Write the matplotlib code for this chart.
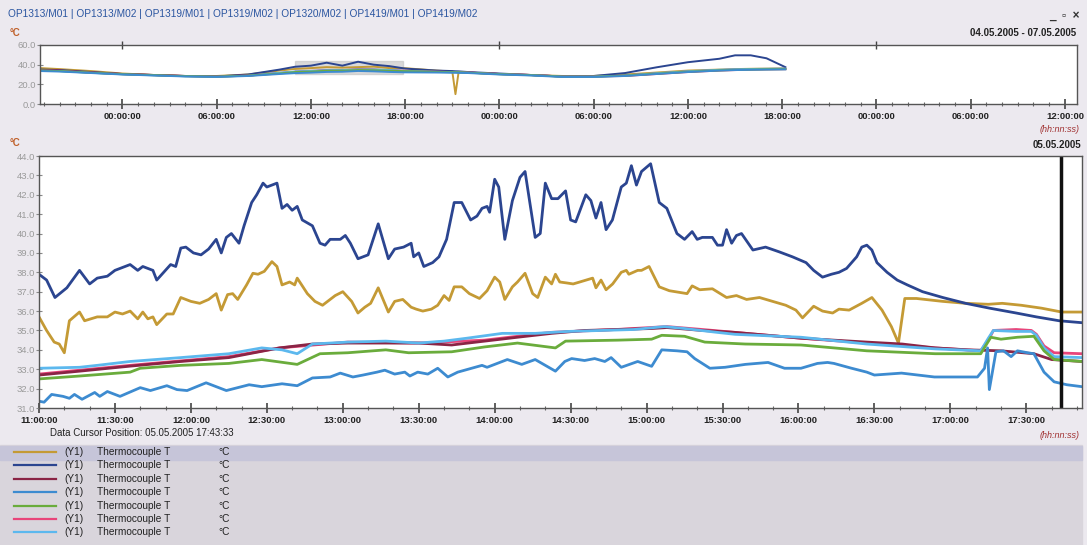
import matplotlib.pyplot as plt
import matplotlib.dates as mdates
from matplotlib.lines import Line2D
from matplotlib.patches import Rectangle
from datetime import datetime, timedelta

W, H = 1087, 545
start_main = datetime(2005, 5, 5, 11, 0)
day0 = datetime(2005, 5, 5, 0, 0)
cursor_time = datetime(2005, 5, 5, 17, 43, 33)

names = ['OP1313/M01', 'OP1313/M02', 'OP1319/M01', 'OP1319/M02', 'OP1320/M02', 'OP1419/M01', 'OP1419/M02']
colors = ['#c49a35', '#2b4590', '#8a2445', '#3d8bd0', '#6aac3c', '#e8457a', '#5cb8ee']

# main chart, minutes after 11:00
gold_t = [0, 3, 6, 8, 10, 12, 16, 18, 23, 27, 30, 33, 36, 39, 41, 43, 45, 46.5, 50.5, 53, 56, 60, 63.5, 67, 70, 72, 74.5, 76.5, 78.5, 82, 84.5, 86.5, 89, 92, 94, 96, 99, 101, 102, 106, 109, 112, 117, 120, 123.5, 126, 128.7, 131, 134, 138, 140.5, 143.7, 147, 149, 151.6, 155, 157.5, 160, 162, 164, 167, 170, 174, 177, 180, 182, 184, 187, 189, 192, 195, 197, 200, 202.5, 204, 205.7, 208.5, 211, 213.6, 218.7, 220, 222, 224, 226.6, 230, 232, 233, 236.5, 238, 241, 245, 249, 256, 258, 261, 266, 271.6, 275.5, 279.5, 284.6, 289.8, 295, 299, 301.6, 306, 309.5, 313.5, 316, 320, 325, 329, 333, 336.7, 339.5, 342, 346.6, 357, 366, 375, 380.5, 388, 396, 404, 412]
gold_v = [35.7, 35.0, 34.4, 34.3, 33.85, 35.5, 35.95, 35.5, 35.7, 35.7, 35.95, 35.85, 36.0, 35.6, 35.95, 35.6, 35.7, 35.3, 35.85, 35.85, 36.7, 36.5, 36.4, 36.6, 36.9, 36.05, 36.85, 36.9, 36.6, 37.35, 37.95, 37.9, 38.05, 38.55, 38.3, 37.35, 37.5, 37.35, 37.7, 36.9, 36.5, 36.3, 36.8, 37.0, 36.5, 35.9, 36.2, 36.4, 37.2, 35.95, 36.5, 36.6, 36.2, 36.1, 36.0, 36.1, 36.3, 36.8, 36.55, 37.25, 37.25, 36.9, 36.65, 37.05, 37.75, 37.5, 36.6, 37.25, 37.5, 37.95, 36.9, 36.7, 37.75, 37.4, 37.9, 37.5, 37.45, 37.4, 37.5, 37.7, 37.2, 37.6, 37.1, 37.4, 38.0, 38.1, 37.9, 38.1, 38.1, 38.3, 37.25, 37.05, 36.9, 37.3, 37.1, 37.15, 36.7, 36.8, 36.6, 36.7, 36.5, 36.3, 36.05, 35.65, 36.25, 36.0, 35.9, 36.1, 36.05, 36.4, 36.7, 36.05, 35.2, 34.35, 36.65, 36.65, 36.5, 36.4, 36.35, 36.4, 36.3, 36.15, 35.95, 35.95]

navy_t = [0, 3, 6.3, 11, 16, 20, 23, 27, 30, 36, 39, 41, 45, 46.5, 52, 54, 56, 58, 61, 64, 67, 70, 72, 74, 76, 79, 81, 84, 86, 88.5, 90, 94, 96, 98, 100, 102, 104, 108, 111, 113, 115, 119, 121, 123, 126, 130, 134, 138, 140.5, 144, 147, 148, 150, 152, 155.5, 158, 161, 164, 167, 170.5, 173, 175, 177, 178, 180, 181.6, 184, 187, 190, 192, 196, 198, 200, 202.5, 205, 208, 210, 212, 216, 218, 220, 222, 224, 226.5, 230, 232, 234, 236, 238, 241.6, 245, 248, 252, 255, 258, 260, 262, 266, 268, 270, 271.6, 273.6, 275.5, 277.5, 282, 287, 292.5, 297.6, 303, 306, 309.5, 313, 316, 319, 321, 323, 325, 327, 329, 331, 335, 339, 343, 349, 357, 366, 375.5, 386, 394, 403, 412]
navy_v = [37.9, 37.6, 36.7, 37.2, 38.1, 37.4, 37.7, 37.8, 38.1, 38.4, 38.1, 38.3, 38.1, 37.6, 38.4, 38.3, 39.25, 39.3, 39.0, 38.9, 39.2, 39.7, 39.0, 39.8, 40.0, 39.5, 40.4, 41.6, 42.0, 42.6, 42.4, 42.6, 41.3, 41.5, 41.2, 41.4, 40.7, 40.4, 39.5, 39.4, 39.7, 39.7, 39.9, 39.5, 38.7, 38.9, 40.5, 38.7, 39.2, 39.3, 39.5, 38.8, 39.0, 38.3, 38.5, 38.8, 39.7, 41.6, 41.6, 40.7, 40.9, 41.3, 41.4, 41.1, 42.8, 42.4, 39.7, 41.7, 42.9, 43.2, 39.8, 40.0, 42.6, 41.8, 41.8, 42.2, 40.7, 40.6, 42.0, 41.7, 40.8, 41.6, 40.2, 40.7, 42.4, 42.6, 43.5, 42.5, 43.2, 43.6, 41.6, 41.3, 40.0, 39.7, 40.1, 39.7, 39.8, 39.8, 39.4, 39.4, 40.2, 39.5, 39.9, 40.0, 39.15, 39.3, 39.05, 38.8, 38.5, 38.1, 37.75, 37.9, 38.0, 38.2, 38.5, 38.8, 39.3, 39.4, 39.15, 38.5, 38.0, 37.6, 37.35, 37.0, 36.7, 36.4, 36.15, 35.9, 35.7, 35.5, 35.4]

maroon_t = [0, 16, 36, 56, 75, 95, 108, 122, 137, 150, 163, 176, 189, 202.5, 215.5, 228.6, 242, 248, 262, 275, 301, 327, 341, 354, 367, 380, 393, 400, 412]
maroon_v = [32.7, 32.9, 33.16, 33.4, 33.6, 34.1, 34.3, 34.35, 34.35, 34.35, 34.25, 34.45, 34.65, 34.85, 35.0, 35.05, 35.1, 35.15, 35.0, 34.9, 34.6, 34.4, 34.3, 34.1, 34.0, 33.95, 33.8, 33.5, 33.4]

blue_t = [0, 2, 5, 9.5, 12, 14, 17, 22, 24, 27, 32, 40, 44, 50.5, 54.5, 58.5, 66, 74, 83, 88, 96, 102, 108, 115, 119, 124, 128, 133.5, 136.6, 140.5, 144.5, 146.5, 149.6, 153.6, 157.5, 161.5, 165.4, 175, 177, 179, 185, 190.7, 196, 204, 207.7, 210.4, 215.5, 219.5, 223.5, 226, 230, 236.5, 242, 246, 252, 256, 259, 265, 271, 279, 288, 294.5, 301, 307.5, 311.5, 314, 321, 327, 330, 340.7, 353.7, 370.7, 373.5, 374.7, 375.4, 378, 381, 384, 386.5, 390.5, 393, 397, 401, 406, 412]
blue_v = [31.35, 31.3, 31.7, 31.6, 31.5, 31.7, 31.45, 31.8, 31.6, 31.85, 31.6, 32.05, 31.9, 32.15, 31.95, 31.9, 32.3, 31.9, 32.2, 32.1, 32.25, 32.15, 32.55, 32.6, 32.8, 32.6, 32.7, 32.85, 32.95, 32.75, 32.85, 32.65, 32.85, 32.75, 33.05, 32.6, 32.85, 33.2, 33.1, 33.2, 33.5, 33.25, 33.5, 32.9, 33.4, 33.55, 33.45, 33.55, 33.4, 33.6, 33.1, 33.4, 33.15, 34.0, 33.95, 33.9, 33.55, 33.05, 33.1, 33.25, 33.35, 33.05, 33.05, 33.3, 33.35, 33.3, 33.05, 32.85, 32.7, 32.8, 32.6, 32.6, 33.05, 34.1, 31.95, 33.9, 33.95, 33.65, 33.95, 33.85, 33.8, 32.85, 32.35, 32.2, 32.1]

green_t = [0, 16, 36, 40, 56, 75, 88, 102, 111, 122, 137, 146, 163, 176, 189, 204, 208, 228.6, 242, 246, 255, 263, 279, 301, 327, 354, 372, 376, 380, 386.5, 393, 397, 401, 412]
green_v = [32.5, 32.65, 32.85, 33.05, 33.2, 33.3, 33.5, 33.25, 33.8, 33.85, 34.0, 33.85, 33.9, 34.15, 34.35, 34.1, 34.45, 34.5, 34.55, 34.75, 34.7, 34.4, 34.3, 34.25, 33.95, 33.8, 33.8, 34.65, 34.55, 34.65, 34.7, 33.95, 33.5, 33.4]

pink_t = [0, 36, 75, 95, 122, 150, 176, 202, 228, 248, 262, 275, 301, 327, 354, 372, 375, 377, 386, 392, 394, 397, 401, 412]
pink_v = [32.75, 33.2, 33.65, 34.1, 34.4, 34.35, 34.5, 34.9, 35.05, 35.2, 35.05, 34.9, 34.6, 34.35, 34.1, 33.95, 34.5, 35.0, 35.05, 35.0, 34.8, 34.2, 33.85, 33.8]

sky_t = [0, 16, 23, 36, 56, 75, 88, 96, 102, 108, 122, 137, 150, 160, 169, 183, 196, 209, 222, 235, 247, 255, 268, 275, 301, 327, 354, 372, 375, 377, 386, 392, 394, 397, 401, 412]
sky_v = [33.05, 33.1, 33.2, 33.4, 33.6, 33.8, 34.1, 34.0, 33.8, 34.3, 34.4, 34.45, 34.35, 34.45, 34.6, 34.85, 34.85, 34.95, 35.0, 35.05, 35.2, 35.1, 34.9, 34.8, 34.65, 34.3, 34.05, 33.95, 34.6, 35.0, 34.95, 34.95, 34.75, 34.1, 33.65, 33.6]

# overview chart, hours after 05.05.2005 00:00
ov_hours = [-5.2, -4, -2, 0, 2, 4, 6, 8, 10, 11, 12, 13, 14, 15, 16, 17, 18, 20, 21, 21.2, 21.4, 22, 24, 26, 28, 30, 32, 34, 36, 38, 39, 40, 41, 42.2]
ov_gold = [36.5, 35.5, 33.5, 31, 29.5, 28.5, 28.5, 30, 34, 35.7, 36.5, 37.5, 37, 37.5, 38, 36.5, 36.4, 34, 33, 10, 32.5, 32, 30.5, 29.5, 28.5, 28.5, 30, 32, 34, 35, 35.5, 35.8, 36, 36.2]
ov_navy = [35, 34.5, 32.5, 30.5, 29.5, 28.5, 28, 30, 35, 37.9, 39, 42, 39, 43, 40, 38.5, 36, 34, 33.5, 33.3, 33.2, 32.5, 31, 29.5, 28, 28.5, 31.5, 37.3, 42.5, 46, 49.5, 49.5, 46.5, 37.5]
ov_maroon = [34.5, 34, 32, 30.5, 29.5, 28.5, 28, 29, 31.5, 32.7, 33.2, 34.3, 34.4, 35, 34.9, 34.2, 33.4, 32.8, 32.5, 32.5, 32.4, 32, 30.5, 29.5, 28, 28, 29, 31, 33, 34.5, 35, 35.4, 35.6, 35.8]
ov_blue = [33.5, 33, 31.5, 30, 29, 28, 27.5, 28.5, 30.5, 31.4, 31.9, 32.6, 32.8, 33.6, 33.2, 32.6, 32.2, 32, 31.8, 31.8, 31.7, 31.5, 30, 29, 27.5, 27.5, 28.5, 30.5, 32.5, 34, 34.5, 34.8, 35, 35.2]
ov_green = [34, 33.5, 31.8, 30.3, 29.3, 28.3, 27.8, 28.8, 31, 32.5, 33, 33.8, 33.9, 34.5, 34.3, 33.8, 33.4, 32.6, 32.3, 32.3, 32.2, 31.8, 30.3, 29.3, 27.8, 27.8, 28.8, 30.8, 32.8, 34.2, 34.7, 35, 35.3, 35.5]
ov_pink = [34.3, 33.8, 31.9, 30.4, 29.4, 28.4, 27.9, 28.9, 31.4, 32.8, 33.6, 34.3, 34.5, 35.1, 34.9, 34.3, 33.8, 32.8, 32.5, 32.5, 32.4, 32, 30.5, 29.5, 28, 28, 28.5, 30.5, 32.5, 34, 34.5, 35, 35.2, 35.4]
ov_sky = [34, 33.5, 31.7, 30.2, 29.2, 28.2, 27.8, 28.8, 31.8, 33.05, 33.6, 34.4, 34.5, 35.1, 35.0, 34.6, 33.6, 32.8, 32.4, 32.4, 32.3, 31.9, 30.4, 29.4, 27.9, 27.9, 29, 31.3, 33.3, 34.8, 35.3, 35.6, 35.8, 36]

main_series = [(gold_t, gold_v), (navy_t, navy_v), (pink_t, pink_v), (maroon_t, maroon_v),
               (sky_t, sky_v), (green_t, green_v), (blue_t, blue_v)]
main_colors = [colors[0], colors[1], colors[5], colors[2], colors[6], colors[4], colors[3]]
ov_series = [ov_gold, ov_navy, ov_pink, ov_maroon, ov_sky, ov_green, ov_blue]

plt.rcParams['font.family'] = ['Liberation Sans', 'DejaVu Sans']

fig = plt.figure(figsize=(W / 100, H / 100), dpi=100, facecolor='#ece9ef')


def fx(px):
    return px / W


def fy(py):
    return 1 - py / H


# bottom legend panel
fig.patches.append(Rectangle((0, 0), fx(1082), fy(445), transform=fig.transFigure, color='#d9d5dc', zorder=0))
fig.patches.append(Rectangle((0, fy(460)), fx(1082), fy(446) - fy(460), transform=fig.transFigure, color='#c6c5d9', zorder=0))

# overview chart
ax1 = fig.add_axes([fx(40), fy(104), fx(1077) - fx(40), fy(45) - fy(104)])
for vals, c in zip(ov_series, main_colors):
    ax1.plot([day0 + timedelta(hours=h) for h in ov_hours], vals, color=c, lw=1.4)
ax1.add_patch(Rectangle((mdates.date2num(start_main), 31), 412 / 1440, 13, color='#c0c0c0', alpha=0.6, zorder=0))
ax1.set_xlim(day0 + timedelta(hours=-5.25), day0 + timedelta(hours=60.77))
ax1.set_ylim(0, 60)
ax1.set_yticks([0, 20, 40, 60])
ax1.set_yticklabels(['0.0', '20.0', '40.0', '60.0'])
ax1.xaxis.set_major_locator(mdates.HourLocator(byhour=[0, 6, 12, 18]))
ax1.xaxis.set_minor_locator(mdates.HourLocator())
ax1.xaxis.set_major_formatter(mdates.DateFormatter('%H:%M:%S'))
sec = ax1.secondary_xaxis('top')
sec.xaxis.set_major_locator(mdates.DayLocator())
sec.tick_params(axis='x', direction='inout', length=6, width=1, labeltop=False, color='#444')
sec.spines['top'].set_visible(False)

# main chart
ax2 = fig.add_axes([fx(39), fy(408), fx(1082) - fx(39), fy(156) - fy(408)])
for (t, v), c in zip(main_series, main_colors):
    ax2.plot([start_main + timedelta(minutes=m) for m in t], v, color=c, lw=2.0, solid_joinstyle='round')
ax2.axvline(cursor_time, color='#111', lw=2.5)
ax2.set_xlim(start_main, start_main + timedelta(minutes=412))
ax2.set_ylim(31, 44)
ax2.set_yticks(range(31, 45))
ax2.set_yticklabels(['%.1f' % v for v in range(31, 45)])
ax2.xaxis.set_major_locator(mdates.MinuteLocator(byminute=[0, 30]))
ax2.xaxis.set_minor_locator(mdates.MinuteLocator(byminute=[10, 20, 40, 50]))
ax2.xaxis.set_major_formatter(mdates.DateFormatter('%H:%M:%S'))

for ax in (ax1, ax2):
    ax.set_facecolor('white')
    for s in ax.spines.values():
        s.set_color('#555')
        s.set_linewidth(1)
    ax.tick_params(axis='x', which='major', direction='inout', length=7, width=1.2,
                   labelsize=6.8, colors='#444', labelcolor='#222', pad=2)
    ax.tick_params(axis='x', which='minor', direction='inout', length=3, width=0.8, colors='#666')
    ax.tick_params(axis='y', direction='inout', length=4, width=0.8, colors='#888',
                   labelsize=6.8, labelcolor='#9a9a9a', pad=1)
    for lbl in ax.get_xticklabels():
        lbl.set_fontweight('bold')

# texts
fig.text(fx(8), fy(14), ' | '.join(names), color='#2a55a0', fontsize=7.3, va='center')
fig.text(fx(1080), fy(16), '_  ▫  ×', color='#333', fontsize=8.5, fontweight='bold', ha='right', va='center')
fig.text(fx(1076), fy(33), '04.05.2005 - 07.05.2005', color='#222', fontsize=7, fontweight='bold', ha='right', va='center')
fig.text(fx(10), fy(33), '°C', color='#c0602a', fontsize=7, fontweight='bold', va='center')
fig.text(fx(10), fy(143), '°C', color='#c0602a', fontsize=7, fontweight='bold', va='center')
fig.text(fx(1080), fy(129), '(hh:nn:ss)', color='#a03030', fontsize=6.5, style='italic', ha='right', va='center')
fig.text(fx(1081), fy(145), '05.05.2005', color='#222', fontsize=7, fontweight='bold', ha='right', va='center')
fig.text(fx(1080), fy(436), '(hh:nn:ss)', color='#a03030', fontsize=6.5, style='italic', ha='right', va='center')
fig.text(fx(50), fy(433), 'Data Cursor Position: 05.05.2005 17:43:33', color='#222', fontsize=7, va='center')

# legend rows
for i, c in enumerate(colors):
    yy = fy(452 + i * 13.4)
    fig.lines.append(Line2D([fx(14), fx(56)], [yy, yy], transform=fig.transFigure, color=c, lw=1.6))
    fig.text(fx(64), yy, '(Y1)', color='#222', fontsize=7.3, va='center')
    fig.text(fx(97), yy, 'Thermocouple T', color='#222', fontsize=7.3, va='center')
    fig.text(fx(218), yy, '°C', color='#222', fontsize=7.3, va='center')

plt.savefig('out.png', dpi=100, facecolor=fig.get_facecolor())
